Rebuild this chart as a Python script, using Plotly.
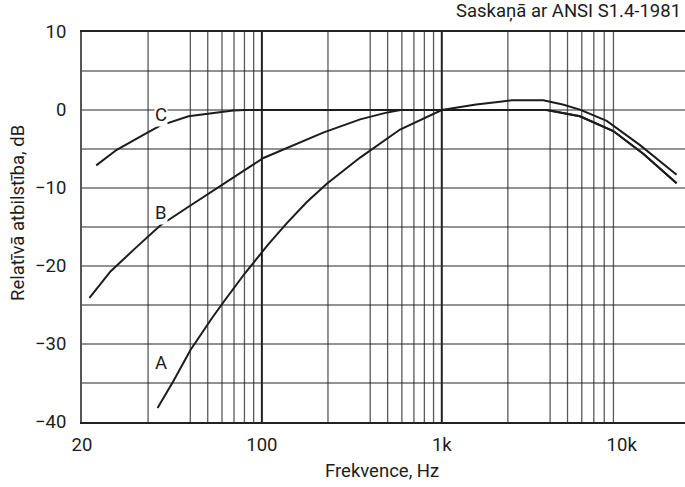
import math
import plotly.graph_objects as go

# Curves (frequency in Hz on the chart's log axis, level in dB)
freq_A = [26.3, 32.3, 40.0, 52.7, 63.1, 80.7, 108.8, 137.7, 177.8, 229.6, 351.6, 586, 1000, 1550, 2110, 2449, 3665, 4700, 5860, 8260, 12650, 20200]
level_A = [-38.2, -34.7, -30.8, -26.7, -24.2, -20.9, -17.2, -14.5, -11.8, -9.45, -6.1, -2.5, 0.0, 0.7, 1.05, 1.25, 1.25, 0.7, 0.05, -1.4, -4.5, -8.3]

freq_B = [11.0, 14.4, 19.4, 27.2, 39.1, 56.2, 102.0, 219.0, 351.6, 480, 590, 1000, 3830, 5860, 8980, 13180, 20200]
level_B = [-24.1, -20.7, -17.9, -14.8, -12.4, -10.0, -6.15, -2.9, -1.2, -0.4, 0.0, 0.0, 0.0, -0.8, -2.7, -5.6, -9.4]

freq_C = [12.0, 15.6, 23.1, 27.2, 39.1, 69.3, 80.7, 1000, 3830, 5860, 8980, 13180, 20200]
level_C = [-7.1, -5.1, -2.9, -2.0, -0.8, -0.08, 0.0, 0.0, 0.0, -0.8, -2.7, -5.6, -9.4]

curve_names = ["A", "B", "C"]
label_pos = {"A": (27.5, -32.4), "B": (27.5, -13.2), "C": (27.5, -0.6)}

y_ticks = [10, 0, -10, -20, -30, -40]
y_tick_text = ["10", "0", "\u221210", "\u221220", "\u221230", "\u221240"]
x_ticks = [10, 100, 1000, 10000]
x_tick_text = ["20", "100", "1k", "10k"]

INK = "#1c1c1c"
FONT = "Roboto"
FS = 18.5

fig = go.Figure()
for name, fx, ly in zip(curve_names, [freq_A, freq_B, freq_C], [level_A, level_B, level_C]):
    fig.add_trace(go.Scatter(x=fx, y=ly, mode="lines", name=name,
                             line=dict(color=INK, width=2), showlegend=False,
                             hoverinfo="skip"))

# vertical grid lines: per decade at 2.33, 4..9 and the decade itself
shapes = []
for dec in [10, 100, 1000]:
    mults = [2.33, 4, 5, 6, 7, 8, 9] + ([10] if dec < 1000 else [])
    for m in mults:
        v = dec * m
        major = (m == 10)
        shapes.append(dict(type="line", xref="x", yref="paper", x0=v, x1=v, y0=0, y1=1,
                           line=dict(color="#222222" if major else "#5a5a5a",
                                     width=2 if major else 1.3),
                           layer="below"))
# horizontal grid lines every 5 dB
for yv in range(-35, 10, 5):
    shapes.append(dict(type="line", xref="paper", yref="y", x0=0, x1=1, y0=yv, y1=yv,
                       line=dict(color="#262626", width=1.2), layer="below"))

annotations = []
for name in curve_names:
    xv, yv = label_pos[name]
    annotations.append(dict(x=math.log10(xv), y=yv, xref="x", yref="y", text=name,
                            showarrow=False,
                            font=dict(family=FONT, size=FS, color=INK),
                            bgcolor="white", borderpad=0))
annotations.append(dict(text="Saskaņā ar ANSI S1.4-1981", xref="paper", yref="paper",
                        x=1, y=1, xanchor="right", yanchor="middle", xshift=-2, yshift=21,
                        showarrow=False, font=dict(family=FONT, size=FS, color=INK)))
annotations.append(dict(text="Frekvence, Hz", xref="paper", yref="paper",
                        x=0.497, y=0, xanchor="center", yanchor="middle", yshift=-49,
                        showarrow=False, font=dict(family=FONT, size=FS, color=INK)))
annotations.append(dict(text="Relatīvā atbilstība, dB", xref="paper", yref="paper",
                        x=0, y=0.5, xanchor="center", yanchor="middle", xshift=-64, yshift=14,
                        textangle=-90, showarrow=False,
                        font=dict(family=FONT, size=FS, color=INK)))

fig.update_layout(
    width=685, height=487,
    margin=dict(l=82, r=0, t=32, b=65),
    paper_bgcolor="white", plot_bgcolor="white",
    font=dict(family=FONT, size=FS, color=INK),
    shapes=shapes, annotations=annotations,
    xaxis=dict(type="log", range=[1, 4.352], tickvals=x_ticks, ticktext=x_tick_text,
               showgrid=False, zeroline=False, showline=True, mirror=True,
               linecolor="#222222", linewidth=2, ticks="", ticklabelstandoff=5,
               tickfont=dict(family=FONT, size=FS, color=INK)),
    yaxis=dict(range=[-40, 10], tickvals=y_ticks, ticktext=y_tick_text,
               showgrid=False, zeroline=False, showline=True,
               linecolor="#555555", linewidth=2, ticks="", ticklabelstandoff=10,
               tickfont=dict(family=FONT, size=FS, color=INK)),
)

fig.write_html("out.html")
